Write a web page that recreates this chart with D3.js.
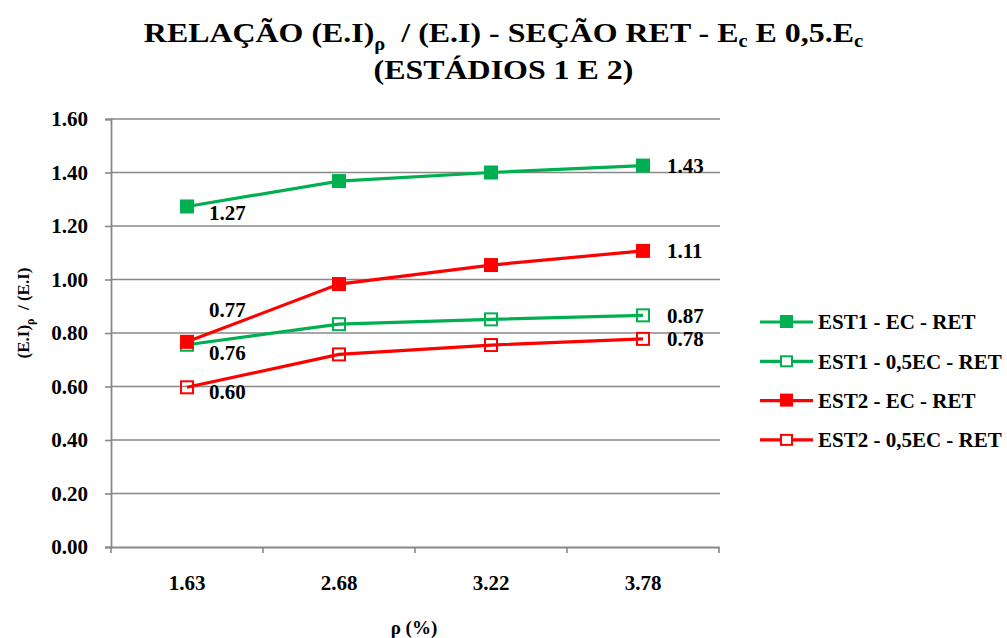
<!DOCTYPE html>
<html>
<head>
<meta charset="utf-8">
<script src="https://cdn.jsdelivr.net/npm/d3@7"></script>
</head>
<body style="margin:0">
<svg id="chart" width="1007" height="638"></svg>
<script>
// Data
const categories = ["1.63", "2.68", "3.22", "3.78"];
const est1Ec = [1.273, 1.368, 1.400, 1.426];
const est1HalfEc = [0.756, 0.833, 0.851, 0.866];
const est2Ec = [0.767, 0.983, 1.054, 1.107];
const est2HalfEc = [0.597, 0.720, 0.755, 0.778];
const yTicks = [0, 0.2, 0.4, 0.6, 0.8, 1.0, 1.2, 1.4, 1.6];
const seriesNames = ["EST1 - EC - RET", "EST1 - 0,5EC - RET", "EST2 - EC - RET", "EST2 - 0,5EC - RET"];
const labelText = ["1.27", "1.43", "0.76", "0.87", "0.77", "1.11", "0.60", "0.78"];

const green = "#00b050", red = "#ff0000", gray = "#888888";
const fontFam = "Liberation Serif";

let series = [
    { name: seriesNames[0], values: est1Ec, color: green, filled: true },
    { name: seriesNames[1], values: est1HalfEc, color: green, filled: false },
    { name: seriesNames[2], values: est2Ec, color: red, filled: true },
    { name: seriesNames[3], values: est2HalfEc, color: red, filled: false }
];
// first/last point labels, with small vertical nudges as in the original
series.forEach(function (s, i) {
    s.labels = [labelText[i * 2], labelText[i * 2 + 1]];
});
let firstNudge = [6, 8, -32, 4];

let svg = d3.select("#chart");

// helper: bold serif text
let txt = function (sel, size) {
    return sel.style("font-family", fontFam)
        .style("font-weight", "bold")
        .style("font-size", size + "px")
        .attr("fill", "#000");
};

let x = d3.scaleBand().domain(categories).range([111, 719]);
let y = d3.scaleLinear().domain([0, 1.6]).range([547, 119]);

// gridlines
svg.append("g")
    .selectAll("line")
    .data(yTicks.slice(1))
    .enter()
    .append("line")
    .attr("x1", 111).attr("x2", 720)
    .attr("y1", d => y(d)).attr("y2", d => y(d))
    .attr("stroke", gray).attr("stroke-width", 1.6);

// y axis
let yAxis = svg.append("g")
    .attr("transform", "translate(111,0)")
    .call(d3.axisLeft(y).tickValues(yTicks).tickFormat(d3.format(".2f")).tickSize(6).tickPadding(17));
yAxis.select(".domain").attr("stroke", gray).attr("stroke-width", 1.8);
yAxis.selectAll(".tick line").attr("stroke", gray).attr("stroke-width", 1.6);
txt(yAxis.selectAll(".tick text"), 21);

// x axis
let xAxis = svg.append("g")
    .attr("transform", "translate(0,547)")
    .call(d3.axisBottom(x).tickSize(0).tickPadding(28));
xAxis.select(".domain").attr("stroke", gray).attr("stroke-width", 1.8);
txt(xAxis.selectAll(".tick text"), 21);
xAxis.selectAll("line.sep")
    .data(categories.map(c => x(c)).concat([x.range()[1]]))
    .enter()
    .append("line")
    .attr("class", "sep")
    .attr("x1", d => d).attr("x2", d => d)
    .attr("y1", 0).attr("y2", 6)
    .attr("stroke", gray).attr("stroke-width", 1.6);

let cx = d => x(d) + x.bandwidth() / 2;

let line = d3.line()
    .x((d, i) => cx(categories[i]))
    .y(d => y(d));

// series lines and markers
series.forEach(function (s) {
    let g = svg.append("g");
    g.append("path")
        .attr("d", line(s.values))
        .attr("fill", "none")
        .attr("stroke", s.color)
        .attr("stroke-width", 3.2);
    g.selectAll("rect")
        .data(s.values)
        .enter()
        .append("rect")
        .attr("x", (d, i) => cx(categories[i]) - (s.filled ? 7 : 6))
        .attr("y", d => y(d) - (s.filled ? 7 : 6))
        .attr("width", s.filled ? 14 : 12)
        .attr("height", s.filled ? 14 : 12)
        .attr("fill", s.filled ? s.color : "none")
        .attr("stroke", s.filled ? "none" : s.color)
        .attr("stroke-width", 2);
});

// data labels (drawn after all series so they sit on top)
series.forEach(function (s, si) {
    let last = s.values.length - 1;
    txt(svg.append("text"), 21)
        .attr("x", cx(categories[0]) + 22)
        .attr("y", y(s.values[0]) + firstNudge[si])
        .attr("dy", "0.35em")
        .text(s.labels[0]);
    txt(svg.append("text"), 21)
        .attr("x", cx(categories[last]) + 24)
        .attr("y", y(s.values[last]))
        .attr("dy", "0.35em")
        .text(s.labels[1]);
});

// legend
let legend = svg.append("g")
    .selectAll("g")
    .data(series)
    .enter()
    .append("g")
    .attr("transform", (d, i) => "translate(760," + (322 + i * 39.3) + ")");
legend.append("line")
    .attr("x1", 0).attr("x2", 53)
    .attr("stroke", d => d.color).attr("stroke-width", 3.2);
legend.append("rect")
    .attr("x", d => d.filled ? 20 : 21)
    .attr("y", d => d.filled ? -7 : -5)
    .attr("width", d => d.filled ? 13 : 11)
    .attr("height", d => d.filled ? 13 : 10)
    .attr("fill", d => d.filled ? d.color : "#fff")
    .attr("stroke", d => d.filled ? "none" : d.color)
    .attr("stroke-width", 2);
txt(legend.append("text"), 21)
    .attr("x", 58)
    .attr("dy", "0.35em")
    .text(d => d.name);

// title (the original is set slightly wide)
let titleG = svg.append("g")
    .attr("transform", "translate(503.5,0) scale(1.14,1)");
let title = txt(titleG.append("text"), 28)
    .attr("x", 0)
    .attr("y", 42)
    .attr("text-anchor", "middle");
title.append("tspan").text("RELAÇÃO (E.I)");
title.append("tspan").attr("dy", 8).style("font-size", "18px").text("ρ");
title.append("tspan").attr("dy", -8).text("\u00a0 / (E.I) - SEÇÃO RET - E");
title.append("tspan").attr("dy", 5).style("font-size", "18px").text("c");
title.append("tspan").attr("dy", -5).text(" E 0,5.E");
title.append("tspan").attr("dy", 5).style("font-size", "18px").text("c");
txt(titleG.append("text"), 28)
    .attr("x", 0)
    .attr("y", 79)
    .attr("text-anchor", "middle")
    .text("(ESTÁDIOS 1 E 2)");

// axis titles
let yTitle = txt(svg.append("text"), 17)
    .attr("transform", "translate(29,313) rotate(-90)")
    .attr("text-anchor", "middle");
yTitle.append("tspan").text("(E.I)");
yTitle.append("tspan").attr("dy", 5).style("font-size", "12px").text("ρ");
yTitle.append("tspan").attr("dy", -5).text("\u00a0 / (E.I)");

txt(svg.append("text"), 19)
    .attr("x", 414)
    .attr("y", 634)
    .attr("text-anchor", "middle")
    .text("ρ (%)");
</script>
</body>
</html>
